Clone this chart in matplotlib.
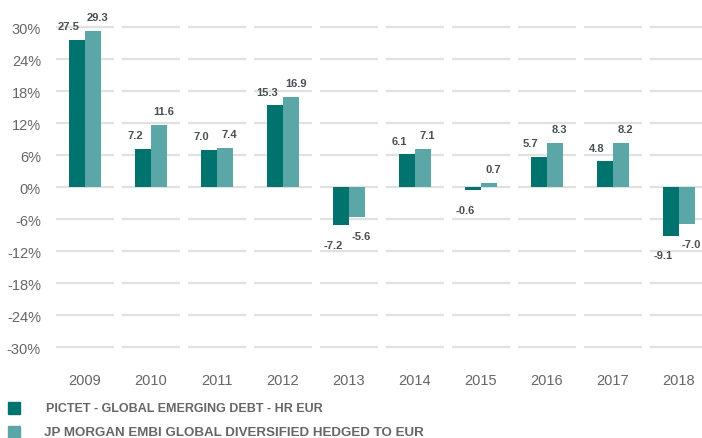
import matplotlib
matplotlib.use("Agg")
import matplotlib.pyplot as plt
from matplotlib.patches import Rectangle
import numpy as np

years = ["2009", "2010", "2011", "2012", "2013", "2014", "2015", "2016", "2017", "2018"]
fund = [27.5, 7.2, 7.0, 15.3, -7.2, 6.1, -0.6, 5.7, 4.8, -9.1]
index = [29.3, 11.6, 7.4, 16.9, -5.6, 7.1, 0.7, 8.3, 8.2, -7.0]
yticks = [-30, -24, -18, -12, -6, 0, 6, 12, 18, 24, 30]
series_names = ["PICTET - GLOBAL EMERGING DEBT - HR EUR",
                "JP MORGAN EMBI GLOBAL DIVERSIFIED HEDGED TO EUR"]

DARK = "#00736f"
LIGHT = "#5ba7a7"
GRID = "#e1e1e1"
TICK = "#666666"
LAB = "#4a4f54"

plt.rcParams['font.family'] = ['Liberation Sans', 'DejaVu Sans']

W, H = 702, 439
fig = plt.figure(figsize=(W / 100, H / 100), dpi=100)
# axes: x from 52 to 712 px, y from 12 to 364 px (ylim -33..33)
ax = fig.add_axes([52 / W, (H - 364) / H, 660 / W, 352 / H])
ax.set_xlim(-0.5, len(years) - 0.5)
ax.set_ylim(-33, 33)

x = np.arange(len(years))
bw = 0.235

# segmented gridlines per category
for t in yticks:
    ax.hlines([t] * len(x), x - 0.44, x + 0.44, colors=GRID, linewidth=1.6, zorder=0)

ax.bar(x - bw / 2, fund, width=bw, color=DARK, zorder=2)
ax.bar(x + bw / 2, index, width=bw, color=LIGHT, zorder=2)

def label(xc, v, dx):
    if v >= 0:
        off = 10
    else:
        off = -14
    ax.annotate(f"{v:.1f}", (xc, v), xytext=(dx, off), textcoords="offset points",
                ha="center", va="center", fontsize=8, fontweight="bold", color=LAB, zorder=3)

for i in range(len(x)):
    label(x[i] - bw / 2, fund[i], -6)
    label(x[i] + bw / 2, index[i], 3.5)

ax.set_yticks(yticks)
ax.set_yticklabels([f"{t}%" for t in yticks])
ax.set_xticks(x)
ax.set_xticklabels(years)
ax.tick_params(axis="both", length=0, labelsize=10.5, colors=TICK)
ax.tick_params(axis="y", pad=8)
ax.tick_params(axis="x", pad=7)
for s in ax.spines.values():
    s.set_visible(False)

# legend
for k, (name, col, fs) in enumerate(zip(series_names, [DARK, LIGHT], [9, 9.6])):
    yc = 409 + 24 * k
    fig.patches.append(Rectangle((8 / W, (H - yc - 6) / H), 12 / W, 12 / H,
                                 transform=fig.transFigure, color=col, figure=fig))
    fig.text((46 - 2 * k) / W, (H - yc) / H, name, ha="left", va="center",
             fontsize=fs, fontweight="bold", color=TICK)

fig.savefig("out.png", dpi=100)
